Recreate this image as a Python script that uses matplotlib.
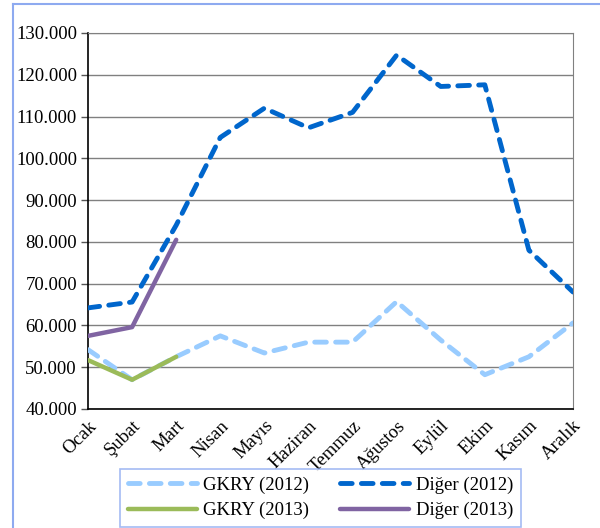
import matplotlib.pyplot as plt
from matplotlib.lines import Line2D

months = ['Ocak', 'Şubat', 'Mart', 'Nisan', 'Mayıs', 'Haziran', 'Temmuz',
          'Ağustos', 'Eylül', 'Ekim', 'Kasım', 'Aralık']
gkry_2012 = [54200, 47000, 52500, 57500, 53400, 56000, 56000, 65700, 56500, 48200, 52500, 60600]
diger_2012 = [64200, 65600, 84000, 105000, 112000, 107300, 111000, 124700, 117200, 117600, 78000, 68000]
gkry_2013 = [51700, 47000, 52500]
diger_2013 = [57500, 59600, 80500]
yticks = [40000, 50000, 60000, 70000, 80000, 90000, 100000, 110000, 120000, 130000]

plt.rcParams['font.family'] = ['Liberation Serif', 'DejaVu Serif']
fs = 13.5

fig = plt.figure(figsize=(6.0, 5.28), dpi=100)
ax = fig.add_axes([0.1467, 0.2254, 0.8083, 0.7121])

x = list(range(len(months)))
l1, = ax.plot(x, gkry_2012, color='#99ccff', lw=3.5, ls=(0, (2.4, 1.9)),
              dash_capstyle='round', label='GKRY (2012)', zorder=3)
l2, = ax.plot(x, diger_2012, color='#0066cc', lw=3.5, ls=(0, (2.4, 1.9)),
              dash_capstyle='round', label='Diğer (2012)', zorder=3)
l3, = ax.plot(x[:3], gkry_2013, color='#9bbb59', lw=3.2, solid_capstyle='round',
              label='GKRY (2013)', zorder=4)
l4, = ax.plot(x[:3], diger_2013, color='#8064a2', lw=3.2, solid_capstyle='round',
              label='Diğer (2013)', zorder=4)

ax.set_xlim(0, 11)
ax.set_ylim(40000, 130000)
ax.set_yticks(yticks)
ax.set_yticklabels([f'{v:,}'.replace(',', '.') for v in yticks], fontsize=fs)
ax.set_xticks(x)
ax.set_xticklabels(months, rotation=45, ha='right', rotation_mode='anchor', fontsize=fs)
ax.tick_params(axis='x', length=0, pad=6)
ax.tick_params(axis='y', length=5, width=1, direction='out', color='#555555', pad=3)
ax.grid(axis='y', color='#808080', lw=1)
ax.set_axisbelow(True)
for side in ['top', 'right']:
    ax.spines[side].set_color('#808080')
for side in ['left', 'bottom']:
    ax.spines[side].set_color('black')
    ax.spines[side].set_linewidth(1.2)

# column-first fill: put 2012 series on the top row
handles = [l1, l3, l2, l4]
leg = fig.legend(handles=handles, labels=[h.get_label() for h in handles],
                 loc='lower left', bbox_to_anchor=(0.2, 0.002, 0.668, 0.104),
                 mode='expand', ncol=2, fontsize=fs, frameon=True, fancybox=False,
                 handlelength=3.7, handletextpad=0.35, borderaxespad=0,
                 columnspacing=1.0, labelspacing=0.45)
leg.get_frame().set_edgecolor('#8eaaf0')
leg.get_frame().set_linewidth(1.2)

# outer chart-area border (cropped)
fig.add_artist(Line2D([13 / 600, 13 / 600], [0, 1 - 4 / 528],
                      transform=fig.transFigure, color='#8eaaf0', lw=1.5))
fig.add_artist(Line2D([13 / 600, 1], [1 - 4 / 528, 1 - 4 / 528],
                      transform=fig.transFigure, color='#8eaaf0', lw=1.5))

fig.savefig('out.png', dpi=100)
